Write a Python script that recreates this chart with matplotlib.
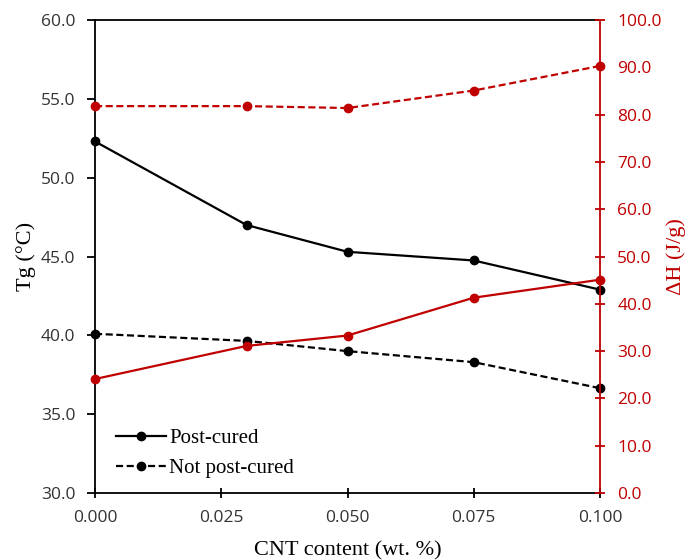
import matplotlib
matplotlib.use('Agg')
import matplotlib.pyplot as plt
import matplotlib.ticker as ticker

cnt = [0.0, 0.03, 0.05, 0.075, 0.1]
tg_post = [52.3, 47.0, 45.3, 44.75, 42.9]
tg_not = [40.1, 39.65, 39.0, 38.3, 36.65]
dh_post = [24.1, 31.1, 33.3, 41.3, 45.1]
dh_not = [81.8, 81.8, 81.4, 85.1, 90.3]

red = '#C00000'
tick_font = 'Open Sans'
label_font = 'Liberation Serif'

fig = plt.figure(figsize=(6.95, 5.6), dpi=100)
ax = fig.add_axes([0.1367, 0.1196, 0.7266, 0.8446])
ax2 = ax.twinx()

ms = 6
lw = 1.6
dash = (3.2, 1.6)

ax.plot(cnt, tg_post, color='black', lw=lw, marker='o', ms=ms, label='Post-cured',
        clip_on=False, zorder=3)
ax.plot(cnt, tg_not, color='black', lw=lw, ls='--', dashes=dash, marker='o', ms=ms,
        label='Not post-cured', clip_on=False, zorder=3)
ax2.plot(cnt, dh_post, color=red, lw=lw, marker='o', ms=ms, clip_on=False)
ax2.plot(cnt, dh_not, color=red, lw=lw, ls='--', dashes=dash, marker='o', ms=ms, clip_on=False)

ax.set_xlim(0, 0.1)
ax.set_ylim(30, 60)
ax2.set_ylim(0, 100)
ax.set_xticks([0, 0.025, 0.05, 0.075, 0.1])
ax.xaxis.set_major_formatter(ticker.FormatStrFormatter('%.3f'))
ax.yaxis.set_major_locator(ticker.MultipleLocator(5))
ax.yaxis.set_major_formatter(ticker.FormatStrFormatter('%.1f'))
ax2.yaxis.set_major_locator(ticker.MultipleLocator(10))
ax2.yaxis.set_major_formatter(ticker.FormatStrFormatter('%.1f'))

for a in (ax, ax2):
    for s in a.spines.values():
        s.set_linewidth(1.3)
ax.spines['right'].set_visible(False)
ax2.spines['left'].set_visible(False)
ax2.spines['bottom'].set_visible(False)
ax2.spines['top'].set_visible(False)
ax2.spines['right'].set_color(red)

ax.tick_params(axis='y', direction='out', length=6, width=1.3, labelsize=12.5,
               colors='black', pad=8)
ax.tick_params(axis='x', direction='inout', length=7, width=1.3, labelsize=12.5,
               colors='black', pad=9)
ax2.tick_params(axis='y', direction='inout', length=7, width=1.3, labelsize=12.5,
                colors=red, pad=9)
for lab in ax.get_xticklabels() + ax.get_yticklabels() + ax2.get_yticklabels():
    lab.set_fontfamily(tick_font)
for lab in ax.get_yticklabels() + ax.get_xticklabels():
    lab.set_color('#333333')

ax.set_xlabel('CNT content (wt. %)', fontfamily=label_font, fontsize=16, labelpad=11)
ax.set_ylabel('Tg (°C)', fontfamily=label_font, fontsize=16, labelpad=4)
ax2.set_ylabel('ΔH (J/g)', fontfamily=label_font, fontsize=16, color=red, labelpad=3)

ax.legend(loc='lower left', bbox_to_anchor=(0.005, -0.008), frameon=False,
          prop={'family': label_font, 'size': 15}, handlelength=2.4, handletextpad=0.15,
          labelspacing=0.5, markerscale=1.0)

fig.savefig('out.png', dpi=100)
